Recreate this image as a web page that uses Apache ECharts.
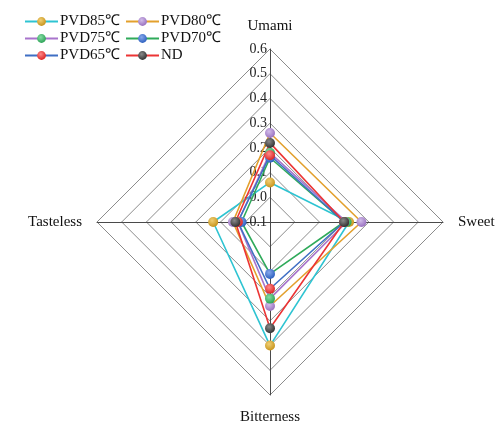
<!DOCTYPE html>
<html>
<head>
<meta charset="utf-8">
<script src="https://cdn.jsdelivr.net/npm/echarts@6/dist/echarts.min.js"></script>
<style>
  html, body { margin: 0; padding: 0; background: #ffffff; }
  #chart { width: 503px; height: 430px; }
</style>
</head>
<body>
<div id="chart"></div>
<script>
// Taste attributes, listed in the radar's drawing order (top, left, bottom, right)
const indicators = ['Umami', 'Tasteless', 'Bitterness', 'Sweet'];
const axisMin = -0.1;
const axisMax = 0.6;

const seriesNames = ['PVD85\u2103', 'PVD80\u2103', 'PVD75\u2103', 'PVD70\u2103', 'PVD65\u2103', 'ND'];

// Scores per sample: [Umami, Tasteless, Bitterness, Sweet]
const pvd85 = [0.06, 0.13, 0.40, 0.22];
const pvd80 = [0.26, 0.05, 0.24, 0.27];
const pvd75 = [0.18, 0.03, 0.21, 0.21];
const pvd70 = [0.16, 0.015, 0.11, 0.20];
const pvd65 = [0.17, 0.03, 0.17, 0.20];
const nd    = [0.22, 0.04, 0.33, 0.20];

const values = [pvd85, pvd80, pvd75, pvd70, pvd65, nd];

// Each sample has a line colour and a separate marker colour
const lineColors   = ['#2ec4d2', '#e3a02c', '#a874cc', '#2faa5a', '#3f6fc4', '#ec3434'];
const markerColors = ['#c8951e', '#9a72c0', '#2ea458', '#2f62c0', '#dc2626', '#333333'];
const markerLights = ['#f0cf74', '#d2bdea', '#86dca4', '#86a8ec', '#ff8a8a', '#8a8a8a'];

const serif = '"Liberation Serif", "Times New Roman", serif';

function ball(i) {
  return {
    type: 'radial', x: 0.4, y: 0.35, r: 0.65,
    colorStops: [
      { offset: 0, color: markerLights[i] },
      { offset: 1, color: markerColors[i] }
    ]
  };
}

const chart = echarts.init(document.getElementById('chart'), null, { renderer: 'canvas' });

// Empty line series give the legend its line-and-ball icons
const legendSeries = seriesNames.map((name, i) => ({
  type: 'line',
  name: name,
  data: [],
  symbol: 'circle',
  symbolSize: 10,
  lineStyle: { color: lineColors[i], width: 1.5 },
  itemStyle: { color: ball(i) }
}));

const radarSeries = seriesNames.map((name, i) => ({
  type: 'radar',
  name: name,
  symbol: 'circle',
  symbolSize: 10,
  lineStyle: { color: lineColors[i], width: 1.6 },
  itemStyle: { color: ball(i) },
  data: [{ value: values[i], name: name }]
}));

chart.setOption({
  backgroundColor: '#ffffff',
  animation: false,
  grid: { show: false, left: -10, top: -10, width: 1, height: 1 },
  xAxis: { show: false, type: 'category' },
  yAxis: { show: false, type: 'value' },
  legend: {
    data: seriesNames,
    left: 24,
    top: 14,
    width: 225,
    itemWidth: 33,
    itemHeight: 11,
    itemGap: 2,
    padding: 0,
    textStyle: {
      fontFamily: serif, fontSize: 15, color: '#111',
      lineHeight: 15, padding: [0, 3, 0, -3]
    }
  },
  radar: {
    center: [270, 222],
    radius: 173,
    startAngle: 90,
    splitNumber: 7,
    shape: 'polygon',
    nameGap: 15,
    axisName: { color: '#111', fontFamily: serif, fontSize: 15 },
    indicator: indicators.map((name, i) => {
      const ind = { name: name, min: axisMin, max: axisMax };
      if (i === 0) {
        ind.axisLabel = {
          show: true,
          fontFamily: serif,
          fontSize: 14,
          color: '#222',
          margin: 3,
          formatter: v => v.toFixed(1)
        };
      }
      return ind;
    }),
    axisLabel: { show: false },
    axisLine: { lineStyle: { color: '#4a4a4a', width: 1 } },
    splitLine: { lineStyle: { color: '#8c8c8c', width: 1 } },
    splitArea: { show: false }
  },
  series: legendSeries.concat(radarSeries)
});
</script>
</body>
</html>
